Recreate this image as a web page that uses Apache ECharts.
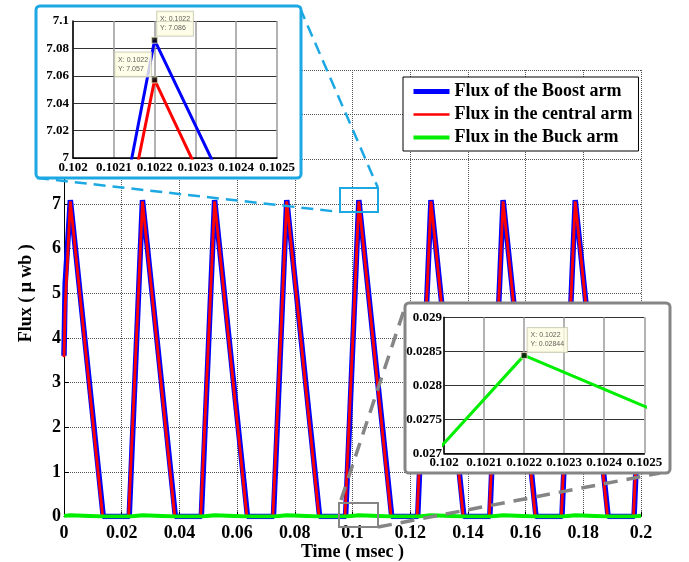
<!DOCTYPE html>
<html>
<head>
<meta charset="utf-8">
<script src="https://cdn.jsdelivr.net/npm/echarts@6/dist/echarts.min.js"></script>
<style>
html,body{margin:0;padding:0;background:#fff;}
#chart{width:689px;height:562px;}
</style>
</head>
<body>
<div id="chart"></div>
<script>
// ---- data ----
const boostTime = [0, 0.0004, 0.0022, 0.0136, 0.0226, 0.0272, 0.0386, 0.0476, 0.0522, 0.0636, 0.0726, 0.0772, 0.0886, 0.0976, 0.1022, 0.1136, 0.1226, 0.1272, 0.1386, 0.1476, 0.1522, 0.1636, 0.1726, 0.1772, 0.1886, 0.1976, 0.2];
const boostFlux = [3.6, 5.2, 7.086, 0, 0, 7.086, 0, 0, 7.086, 0, 0, 7.086, 0, 0, 7.086, 0, 0, 7.086, 0, 0, 7.086, 0, 0, 7.086, 0, 0, 3.65];

const centralTime = [0, 0.0004, 0.0022, 0.0134, 0.0224, 0.0272, 0.0384, 0.0474, 0.0522, 0.0634, 0.0724, 0.0772, 0.0884, 0.0974, 0.1022, 0.1134, 0.1224, 0.1272, 0.1384, 0.1474, 0.1522, 0.1634, 0.1724, 0.1772, 0.1884, 0.1974, 0.2];
const centralFlux = [3.57, 4.7, 7.057, 0, 0, 7.057, 0, 0, 7.057, 0, 0, 7.057, 0, 0, 7.057, 0, 0, 7.057, 0, 0, 7.057, 0, 0, 7.057, 0, 0, 3.8];

const buckTime = [0, 0.0022, 0.0136, 0.0228, 0.0272, 0.0386, 0.0478, 0.0522, 0.0636, 0.0728, 0.0772, 0.0886, 0.0978, 0.1022, 0.1136, 0.1228, 0.1272, 0.1386, 0.1478, 0.1522, 0.1636, 0.1728, 0.1772, 0.1886, 0.1978, 0.2];
const buckFlux = [0.0138, 0.02844, 0, 0, 0.02844, 0, 0, 0.02844, 0, 0, 0.02844, 0, 0, 0.02844, 0, 0, 0.02844, 0, 0, 0.02844, 0, 0, 0.02844, 0, 0, 0.0143];

const seriesNames = ['Flux of the Boost arm', 'Flux in the central arm', 'Flux in the Buck arm'];
const axisTitles = { x: 'Time ( msec )', y: 'Flux ( \u03bc wb )' };
const tipTime = 0.1022;

// ---- helpers ----
const pairs = (t, v) => t.map((x, i) => [x, v[i]]);
const at = (t, v, x) => v[t.indexOf(x)];

const SERIF = 'Liberation Serif';
const boldLbl = (size, margin) => ({ fontFamily: SERIF, fontWeight: 'bold', fontSize: size, color: '#000', margin: margin });

const chart = echarts.init(document.getElementById('chart'), null, { renderer: 'canvas' });

const blueC = '#0000ff', redC = '#ff0000', greenC = '#00ee00';
const cyan = '#1ca8e3', gray = '#858585';

function tipLabel(pos) {
  return {
    show: true,
    position: pos,
    formatter: p => 'X: ' + p.value[0] + '\nY: ' + p.value[1],
    fontFamily: 'Liberation Sans',
    fontSize: 7,
    lineHeight: 9,
    color: '#333',
    backgroundColor: '#ffffe4',
    borderColor: '#c8c8b0',
    borderWidth: 1,
    padding: [3, 3, 3, 3]
  };
}

const option = {
  animation: false,
  backgroundColor: '#fff',
  grid: [
    { left: 64, top: 70, width: 577, height: 446.5, outerBoundsMode: 'none' },
    { left: 73, top: 21, width: 204, height: 137, z: 20, outerBoundsMode: 'none' },
    { left: 444, top: 317.3, width: 200.3, height: 136, z: 20, outerBoundsMode: 'none' }
  ],
  legend: {
    data: [
      { name: seriesNames[0], lineStyle: { width: 5 } },
      { name: seriesNames[1], lineStyle: { width: 2.5 } },
      { name: seriesNames[2], lineStyle: { width: 4 } }
    ],
    orient: 'vertical',
    left: 403, top: 77,
    backgroundColor: '#fff',
    borderColor: '#000', borderWidth: 1,
    padding: [3, 6, 2, 8],
    itemWidth: 36, itemHeight: 14, itemGap: 0,
    itemStyle: { opacity: 0 },
    textStyle: { fontFamily: SERIF, fontWeight: 'bold', fontSize: 18, lineHeight: 23, color: '#000' },
    z: 5
  },
  xAxis: [
    {
      gridIndex: 0, type: 'value', min: 0, max: 0.2, interval: 0.02,
      name: axisTitles.x, nameLocation: 'middle', nameGap: 27, nameMoveOverlap: false,
      nameTextStyle: { fontFamily: SERIF, fontWeight: 'bold', fontSize: 18, color: '#000' },
      axisLine: { lineStyle: { color: '#000', width: 1 } },
      axisTick: { inside: true, length: 5, lineStyle: { color: '#000' } },
      axisLabel: boldLbl(18, 8),
      splitLine: { show: true, lineStyle: { color: '#555', type: [1, 1], width: 1 } }
    },
    {
      gridIndex: 1, type: 'value', min: 0.102, max: 0.1025, interval: 0.0001, z: 20,
      axisLine: { lineStyle: { color: '#000', width: 1.5 } },
      axisTick: { show: false },
      axisLabel: boldLbl(13, 3),
      splitLine: { show: true, lineStyle: { color: '#9a9a9a', width: 1.5 } }
    },
    {
      gridIndex: 2, type: 'value', min: 0.102, max: 0.1025, interval: 0.0001, z: 20,
      axisLine: { lineStyle: { color: '#000', width: 1.5 } },
      axisTick: { show: false },
      axisLabel: boldLbl(13, 3),
      splitLine: { show: true, lineStyle: { color: '#9a9a9a', width: 1.5 } }
    }
  ],
  yAxis: [
    {
      gridIndex: 0, type: 'value', min: 0, max: 10, interval: 1,
      name: axisTitles.y, nameLocation: 'middle', nameGap: 29, nameMoveOverlap: false,
      nameTextStyle: { fontFamily: SERIF, fontWeight: 'bold', fontSize: 18, color: '#000' },
      axisLine: { show: true, lineStyle: { color: '#000', width: 1 } },
      axisTick: { show: true, inside: true, length: 5, lineStyle: { color: '#000' } },
      axisLabel: boldLbl(18, 3),
      splitLine: { show: true, lineStyle: { color: '#555', type: [1, 1], width: 1 } }
    },
    {
      gridIndex: 1, type: 'value', min: 7, max: 7.1, interval: 0.02, z: 20,
      axisLine: { show: true, lineStyle: { color: '#000', width: 1.5 } },
      axisTick: { show: false },
      axisLabel: boldLbl(13, 4),
      splitLine: { show: true, lineStyle: { color: '#333', width: 1 } }
    },
    {
      gridIndex: 2, type: 'value', min: 0.027, max: 0.029, interval: 0.0005, z: 20,
      axisLine: { show: true, lineStyle: { color: '#000', width: 1.5 } },
      axisTick: { show: false },
      axisLabel: boldLbl(13, 2),
      splitLine: { show: true, lineStyle: { color: '#333', width: 1 } }
    }
  ],
  series: [
    { name: seriesNames[0], type: 'line', xAxisIndex: 0, yAxisIndex: 0, data: pairs(boostTime, boostFlux),
      symbol: 'none', z: 3, lineStyle: { color: blueC, width: 5.5 }, itemStyle: { color: blueC } },
    { name: seriesNames[1], type: 'line', xAxisIndex: 0, yAxisIndex: 0, data: pairs(centralTime, centralFlux),
      symbol: 'none', z: 4, lineStyle: { color: redC, width: 2.8 }, itemStyle: { color: redC } },
    { name: seriesNames[2], type: 'line', xAxisIndex: 0, yAxisIndex: 0, data: pairs(buckTime, buckFlux),
      symbol: 'none', z: 5, lineStyle: { color: greenC, width: 4 }, itemStyle: { color: greenC } },

    // zoom inset 1 (top-left)
    { name: 'boost-zoom', type: 'line', xAxisIndex: 1, yAxisIndex: 1, data: pairs(boostTime, boostFlux),
      symbol: 'none', clip: true, z: 21, lineStyle: { color: blueC, width: 3 } },
    { name: 'central-zoom', type: 'line', xAxisIndex: 1, yAxisIndex: 1, data: pairs(centralTime, centralFlux),
      symbol: 'none', clip: true, z: 22, lineStyle: { color: redC, width: 3 } },
    { name: 'tips1', type: 'scatter', xAxisIndex: 1, yAxisIndex: 1, z: 30, clip: false,
      symbol: 'rect', symbolSize: 6,
      itemStyle: { color: '#000', borderColor: '#e8e8c0', borderWidth: 1 },
      data: [
        { value: [tipTime, at(boostTime, boostFlux, tipTime)], label: tipLabel([6, -25]) },
        { value: [tipTime, at(centralTime, centralFlux, tipTime)], label: tipLabel([-36, -24]) }
      ] },

    // zoom inset 2 (right)
    { name: 'buck-zoom', type: 'line', xAxisIndex: 2, yAxisIndex: 2, data: pairs(buckTime, buckFlux),
      symbol: 'none', clip: true, z: 21, lineStyle: { color: greenC, width: 3 } },
    { name: 'tips2', type: 'scatter', xAxisIndex: 2, yAxisIndex: 2, z: 30, clip: false,
      symbol: 'rect', symbolSize: 6,
      itemStyle: { color: '#000', borderColor: '#e8e8c0', borderWidth: 1 },
      data: [
        { value: [tipTime, at(buckTime, buckFlux, tipTime)], label: tipLabel([7, -24]) }
      ] }
  ],
  graphic: [
    // magnifier boxes on the main axes
    { type: 'rect', z: 8, shape: { x: 340, y: 188, width: 38, height: 24 },
      style: { fill: 'none', stroke: cyan, lineWidth: 2 } },
    { type: 'rect', z: 8, shape: { x: 339, y: 503, width: 39, height: 24 },
      style: { fill: 'none', stroke: gray, lineWidth: 2 } },
    // connectors
    { type: 'line', z: 8, shape: { x1: 37, y1: 178, x2: 340, y2: 212 },
      style: { stroke: cyan, lineWidth: 2.5, lineDash: [12, 7] } },
    { type: 'line', z: 8, shape: { x1: 300, y1: 8, x2: 378, y2: 188 },
      style: { stroke: cyan, lineWidth: 2.5, lineDash: [12, 7] } },
    { type: 'line', z: 8, shape: { x1: 341, y1: 500, x2: 406, y2: 304 },
      style: { stroke: gray, lineWidth: 3.5, lineDash: [14, 9] } },
    { type: 'line', z: 8, shape: { x1: 378, y1: 527, x2: 660, y2: 473 },
      style: { stroke: gray, lineWidth: 3.5, lineDash: [14, 9] } },
    // inset frames
    { type: 'rect', z: 10, shape: { x: 36, y: 6, width: 265, height: 172, r: 4 },
      style: { fill: '#fff', stroke: cyan, lineWidth: 3 } },
    { type: 'rect', z: 10, shape: { x: 405, y: 303, width: 265, height: 170, r: 4 },
      style: { fill: '#fff', stroke: gray, lineWidth: 3 } }
  ]
};

chart.setOption(option);
</script>
</body>
</html>
